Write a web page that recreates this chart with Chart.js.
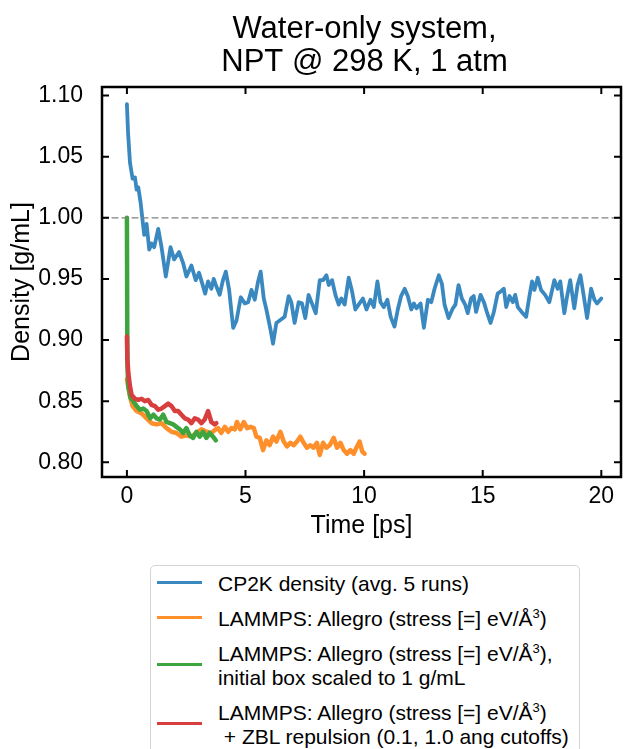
<!DOCTYPE html>
<html>
<head>
<meta charset="utf-8">
<script src="https://cdn.jsdelivr.net/npm/chart.js@4.4.1/dist/chart.umd.min.js"></script>
<style>
  body { margin: 0; background: #fff; }
  #wrap { position: relative; width: 627px; height: 749px; overflow: hidden; }
  #c { position: absolute; left: 0; top: 0; }
  #legend {
    position: absolute; left: 150px; top: 565px; width: 428px; height: 200px;
    border: 1px solid #d4d4d4; border-radius: 5px; background: #fff;
    font-family: "Liberation Sans", Arial, sans-serif; font-size: 21px; color: #000;
  }
  .swatch { position: absolute; left: 6px; width: 45px; height: 3px; }
  .lbl { position: absolute; left: 67px; white-space: pre; line-height: 23.5px; }
  sup { font-size: 13px; line-height: 0; vertical-align: 8px; }
</style>
</head>
<body>
<div id="wrap">
  <canvas id="c" width="627" height="749"></canvas>
  <div id="legend"></div>
</div>
<script>
// chart text
const titleLines = ['Water-only system,', 'NPT @ 298 K, 1 atm'];
const xLabel = 'Time [ps]';
const yLabel = 'Density [g/mL]';
const xTickValues = [0, 5, 10, 15, 20];
const yTickValues = [0.80, 0.85, 0.90, 0.95, 1.00, 1.05, 1.10];
const refDensity = 1.0;

// CP2K density (avg. 5 runs)
const timeCP2K = [0.00, 0.05, 0.13, 0.24, 0.34, 0.41, 0.48, 0.58, 0.66, 0.73, 0.83, 0.94, 1.04, 1.15, 1.32, 1.46, 1.64, 1.84, 1.99, 2.20,
  2.37, 2.51, 2.72, 2.90, 3.04, 3.18, 3.30, 3.42, 3.56, 3.66, 3.77, 3.91, 4.05, 4.17, 4.31, 4.48, 4.62, 4.80, 4.97, 5.11,
  5.25, 5.39, 5.53, 5.64, 5.77, 5.88, 6.05, 6.16, 6.30, 6.51, 6.65, 6.82, 6.93, 7.07, 7.24, 7.38, 7.52, 7.66, 7.80, 7.96,
  8.13, 8.27, 8.41, 8.51, 8.65, 8.79, 8.93, 9.04, 9.18, 9.35, 9.49, 9.63, 9.77, 9.95, 10.10, 10.27, 10.41, 10.56, 10.69, 10.83,
  10.98, 11.12, 11.28, 11.42, 11.56, 11.71, 11.84, 11.99, 12.10, 12.21, 12.38, 12.52, 12.69, 12.83, 12.97, 13.15, 13.28, 13.39, 13.56, 13.74,
  13.85, 13.98, 14.12, 14.26, 14.37, 14.51, 14.62, 14.72, 14.91, 15.05, 15.19, 15.33, 15.47, 15.63, 15.77, 15.89, 15.99, 16.13, 16.27, 16.37,
  16.48, 16.64, 16.83, 16.97, 17.08, 17.18, 17.32, 17.46, 17.63, 17.81, 18.02, 18.16, 18.27, 18.44, 18.56, 18.69, 18.86, 19.00, 19.12, 19.26,
  19.40, 19.57, 19.71, 19.82, 20.00];
const densCP2K = [1.093, 1.069, 1.045, 1.032, 1.033, 1.023, 1.025, 1.012, 0.998, 0.986, 0.995, 0.974, 0.979, 0.976, 0.991, 0.976, 0.952, 0.976, 0.966, 0.972,
  0.963, 0.952, 0.961, 0.949, 0.955, 0.946, 0.938, 0.948, 0.942, 0.950, 0.944, 0.937, 0.949, 0.956, 0.941, 0.910, 0.916, 0.935, 0.930, 0.931,
  0.941, 0.933, 0.948, 0.956, 0.934, 0.925, 0.909, 0.897, 0.914, 0.917, 0.919, 0.936, 0.931, 0.914, 0.931, 0.930, 0.918, 0.937, 0.930, 0.922,
  0.949, 0.949, 0.953, 0.945, 0.949, 0.937, 0.929, 0.934, 0.929, 0.951, 0.940, 0.925, 0.929, 0.934, 0.925, 0.933, 0.927, 0.948, 0.931, 0.927,
  0.933, 0.919, 0.911, 0.925, 0.936, 0.942, 0.936, 0.925, 0.930, 0.926, 0.930, 0.910, 0.933, 0.931, 0.942, 0.953, 0.946, 0.929, 0.918, 0.926,
  0.929, 0.945, 0.934, 0.929, 0.922, 0.934, 0.936, 0.923, 0.937, 0.931, 0.922, 0.914, 0.923, 0.938, 0.940, 0.942, 0.927, 0.936, 0.931, 0.937,
  0.927, 0.923, 0.919, 0.936, 0.948, 0.941, 0.951, 0.941, 0.937, 0.931, 0.949, 0.942, 0.948, 0.922, 0.936, 0.949, 0.926, 0.945, 0.953, 0.936,
  0.918, 0.942, 0.933, 0.930, 0.934];

// LAMMPS: Allegro
const timeAllegro = [0.00, 0.13, 0.24, 0.41, 0.62, 0.83, 1.04, 1.25, 1.46, 1.67, 1.88, 2.09, 2.30, 2.51, 2.72, 2.93, 3.14, 3.35, 3.56, 3.75,
  3.84, 3.98, 4.13, 4.27, 4.41, 4.55, 4.64, 4.78, 4.93, 5.07, 5.21, 5.35, 5.46, 5.60, 5.74, 5.88, 6.02, 6.16, 6.30, 6.47,
  6.61, 6.75, 6.89, 7.03, 7.17, 7.31, 7.45, 7.59, 7.73, 7.87, 8.01, 8.13, 8.27, 8.41, 8.55, 8.72, 8.86, 9.00, 9.14, 9.28,
  9.42, 9.56, 9.70, 9.81, 9.92, 10.02];
const densAllegro = [0.868, 0.854, 0.846, 0.842, 0.840, 0.836, 0.832, 0.831, 0.832, 0.828, 0.825, 0.824, 0.821, 0.822, 0.821, 0.824, 0.827, 0.825, 0.824, 0.827,
  0.828, 0.824, 0.829, 0.825, 0.828, 0.827, 0.833, 0.827, 0.833, 0.828, 0.829, 0.828, 0.821, 0.820, 0.810, 0.818, 0.814, 0.821, 0.817, 0.825,
  0.817, 0.813, 0.816, 0.814, 0.817, 0.821, 0.816, 0.812, 0.814, 0.812, 0.816, 0.806, 0.816, 0.812, 0.814, 0.820, 0.812, 0.816, 0.810, 0.807,
  0.810, 0.807, 0.813, 0.817, 0.809, 0.807];

// LAMMPS: Allegro, initial box scaled to 1 g/mL
const timeScaled = [0.00, 0.02, 0.06, 0.15, 0.27, 0.41, 0.55, 0.69, 0.83, 0.98, 1.12, 1.25, 1.39, 1.53, 1.67, 1.81, 1.96, 2.09, 2.23, 2.37,
  2.51, 2.65, 2.79, 2.93, 3.07, 3.21, 3.35, 3.49, 3.63, 3.75];
const densScaled = [1.000, 0.880, 0.862, 0.853, 0.850, 0.846, 0.843, 0.844, 0.842, 0.836, 0.839, 0.836, 0.835, 0.839, 0.833, 0.832, 0.831, 0.829, 0.827, 0.824,
  0.828, 0.822, 0.820, 0.825, 0.821, 0.825, 0.820, 0.824, 0.821, 0.818];

// LAMMPS: Allegro + ZBL repulsion
const timeZBL = [0.00, 0.02, 0.06, 0.13, 0.20, 0.34, 0.48, 0.62, 0.76, 0.90, 1.04, 1.18, 1.32, 1.46, 1.60, 1.74, 1.88, 2.02, 2.16, 2.30,
  2.44, 2.58, 2.72, 2.86, 3.00, 3.14, 3.28, 3.42, 3.56, 3.70, 3.77];
const densZBL = [0.903, 0.885, 0.873, 0.862, 0.855, 0.852, 0.851, 0.852, 0.850, 0.851, 0.847, 0.846, 0.843, 0.844, 0.846, 0.848, 0.846, 0.842, 0.842, 0.839,
  0.836, 0.835, 0.832, 0.836, 0.835, 0.832, 0.835, 0.842, 0.833, 0.831, 0.832];

const seriesLabels = [
  'CP2K density (avg. 5 runs)',
  'LAMMPS: Allegro (stress [=] eV/Å<sup>3</sup>)',
  'LAMMPS: Allegro (stress [=] eV/Å<sup>3</sup>),\ninitial box scaled to 1 g/mL',
  'LAMMPS: Allegro (stress [=] eV/Å<sup>3</sup>)\n + ZBL repulsion (0.1, 1.0 ang cutoffs)'
];
const seriesColors = ['#3a88c0', '#ff8f2b', '#3ea53e', '#d83e3e'];

const xMin = -1.05, xMax = 20.83, yMin = 0.788, yMax = 1.107;
const FONT = '"Liberation Sans", Arial, sans-serif';

function pts(xs, ys) {
  return xs.map((t, i) => ({ x: t, y: ys[i] }));
}

// frame, inward ticks on all four sides, titles
const framePlugin = {
  id: 'frame',
  afterDraw(chart) {
    const { ctx, chartArea: a, scales: { x, y } } = chart;
    ctx.save();
    ctx.strokeStyle = '#000';
    ctx.lineWidth = 2;
    ctx.beginPath();
    x.ticks.forEach(t => {
      const px = x.getPixelForValue(t.value);
      ctx.moveTo(px, a.bottom); ctx.lineTo(px, a.bottom - 7);
      ctx.moveTo(px, a.top); ctx.lineTo(px, a.top + 7);
    });
    y.ticks.forEach(t => {
      const py = y.getPixelForValue(t.value);
      ctx.moveTo(a.left, py); ctx.lineTo(a.left + 7, py);
      ctx.moveTo(a.right, py); ctx.lineTo(a.right - 7, py);
    });
    ctx.stroke();
    ctx.lineWidth = 2.5;
    ctx.strokeRect(a.left, a.top, a.right - a.left, a.bottom - a.top);

    const cx = (a.left + a.right) / 2 + 3;
    ctx.fillStyle = '#000';
    ctx.textAlign = 'center';
    ctx.textBaseline = 'alphabetic';
    ctx.font = '31px ' + FONT;
    ctx.fillText(titleLines[0], cx, 38);
    ctx.fillText(titleLines[1], cx, 71);
    ctx.font = '25px ' + FONT;
    ctx.fillText(xLabel, cx - 3, 533);
    ctx.translate(29, (a.top + a.bottom) / 2);
    ctx.rotate(-Math.PI / 2);
    ctx.fillText(yLabel, 0, 0);
    ctx.restore();
  }
};

new Chart(document.getElementById('c'), {
  type: 'line',
  data: {
    datasets: [
      { data: pts([xMin, xMax], [refDensity, refDensity]), borderColor: '#808080', borderWidth: 1.3, borderDash: [6, 4], order: 0 },
      { data: pts(timeZBL, densZBL), borderColor: seriesColors[3], borderWidth: 4.5, order: 1 },
      { data: pts(timeScaled, densScaled), borderColor: seriesColors[2], borderWidth: 4.5, order: 2 },
      { data: pts(timeAllegro, densAllegro), borderColor: seriesColors[1], borderWidth: 4.5, order: 3 },
      { data: pts(timeCP2K, densCP2K), borderColor: seriesColors[0], borderWidth: 3.8, order: 4 }
    ]
  },
  options: {
    responsive: false,
    animation: false,
    devicePixelRatio: 1,
    layout: { padding: { top: 87, right: 6, left: 0, bottom: 0 } },
    plugins: { legend: { display: false }, tooltip: { enabled: false } },
    elements: { point: { radius: 0 }, line: { tension: 0, borderJoinStyle: 'round', borderCapStyle: 'round' } },
    scales: {
      x: {
        type: 'linear', min: xMin, max: xMax,
        grid: { display: false, drawTicks: false },
        border: { display: false },
        afterBuildTicks: s => { s.ticks = xTickValues.map(v => ({ value: v })); },
        afterFit: s => { s.height = 749 - 477; },
        ticks: { padding: 6, color: '#000', font: { family: FONT, size: 23 }, maxRotation: 0, autoSkip: false }
      },
      y: {
        type: 'linear', min: yMin, max: yMax,
        grid: { display: false, drawTicks: false },
        border: { display: false },
        afterBuildTicks: s => { s.ticks = yTickValues.map(v => ({ value: v })); },
        afterFit: s => { s.width = 102; },
        ticks: { padding: 19, color: '#000', font: { family: FONT, size: 23 }, autoSkip: false, callback: v => v.toFixed(2) }
      }
    }
  },
  plugins: [framePlugin]
});

// legend below the axes
const legendTops = [6, 41, 76, 135];
const swatchTops = [15, 50, 97, 156];
const legend = document.getElementById('legend');
seriesLabels.forEach((txt, i) => {
  const sw = document.createElement('div');
  sw.className = 'swatch';
  sw.style.top = swatchTops[i] + 'px';
  sw.style.background = seriesColors[i];
  legend.appendChild(sw);
  const lb = document.createElement('div');
  lb.className = 'lbl';
  lb.style.top = legendTops[i] + 'px';
  lb.innerHTML = txt;
  legend.appendChild(lb);
});
</script>
</body>
</html>
